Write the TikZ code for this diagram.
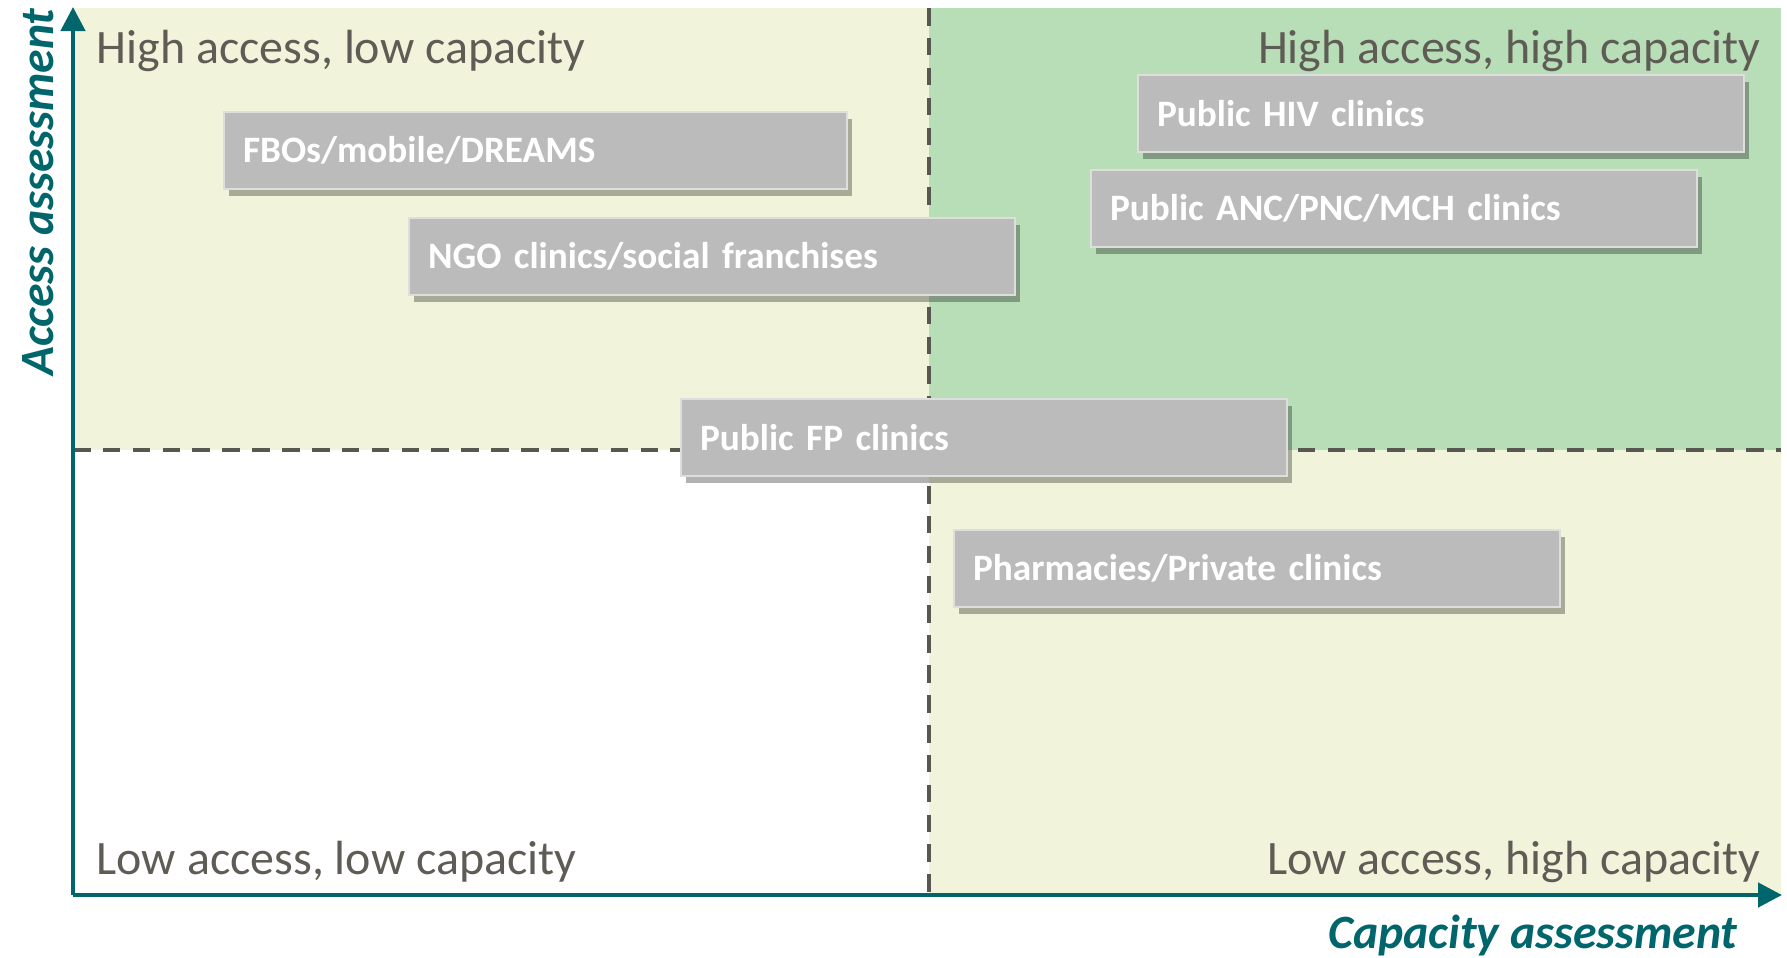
\documentclass[tikz,border=0pt]{standalone}
\usepackage{fontspec}
\setmainfont{Carlito}
\usetikzlibrary{arrows.meta,shadows}
\definecolor{axteal}{RGB}{0,102,107}
\definecolor{qgreen}{RGB}{183,222,183}
\definecolor{qcream}{RGB}{241,244,218}
\definecolor{boxgray}{RGB}{187,187,187}
\definecolor{labgray}{RGB}{95,92,86}
\definecolor{dashgray}{RGB}{88,88,80}

\tikzset{
  quadlabel/.style={font=\fontsize{13.65}{16}\selectfont, text=labgray, inner sep=0pt},
  axlabel/.style={font=\fontsize{13.6}{16}\selectfont\bfseries\itshape, text=axteal, inner sep=0pt},
  channel/.style={fill=boxgray, draw=black!13, line width=0.6pt, text=white,
    font=\fontsize{10.6}{12}\selectfont\bfseries, text width=5.68cm, inner xsep=0.19cm,
    inner ysep=0pt, minimum height=0.77cm, align=left, anchor=north west,
    drop shadow={shadow xshift=0.45mm, shadow yshift=-0.7mm, fill=black, opacity=0.3}},
  axis/.style={line width=1.3pt, draw=axteal, -{Triangle[length=2.4mm,width=2.4mm]}},
  divider/.style={line width=1pt, draw=dashgray, dash pattern=on 5pt off 3.5pt}
}

\begin{document}
\begin{tikzpicture}[x=1.0cm,y=1.0cm]
  \useasboundingbox (0,0) rectangle (17.87,9.57);
  % quadrant backgrounds
  \fill[qcream] (0.73,5.07) rectangle (9.29,9.49);
  \fill[qgreen] (9.29,5.07) rectangle (17.81,9.49);
  \fill[qcream] (9.29,0.62) rectangle (17.81,5.07);
  % dividers
  \draw[divider] (9.29,9.49) -- (9.29,0.62);
  \draw[divider] (0.73,5.07) -- (17.81,5.07);
  % axes
  \coordinate (O) at (0.73,0.62);
  \coordinate (ytop) at (0.73,9.50);
  \coordinate (xend) at (17.82,0.62);
  \draw[axis] (O) -- (ytop);
  \draw[axis] (O) -- (xend);
  \node[axlabel, rotate=90, anchor=base west] (acclab) at (0.53,5.81) {Access assessment};
  \node[axlabel, anchor=base east] (caplab) at (17.38,0.09) {Capacity assessment};
  % quadrant names
  \node[quadlabel, anchor=base west] (hl) at (0.96,8.94) {High access, low capacity};
  \node[quadlabel, anchor=base east] (hh) at (17.61,8.94) {High access, high capacity};
  \node[quadlabel, anchor=base west] (ll) at (0.96,0.83) {Low access, low capacity};
  \node[quadlabel, anchor=base east] (lh) at (17.61,0.83) {Low access, high capacity};
  % service channels
  \node[channel, text width=5.85cm] (fbo) at (2.23,8.46) {FBOs/mobile/DREAMS};
  \node[channel] (ngo) at (4.08,7.40) {NGO clinics/social franchises};
  \node[channel] (hiv) at (11.37,8.83) {Public HIV clinics};
  \node[channel] (anc) at (10.90,7.88) {Public ANC/PNC/MCH clinics};
  \node[channel] (fp) at (6.80,5.59) {Public FP clinics};
  \node[channel] (pharm) at (9.53,4.28) {Pharmacies/Private clinics};
\end{tikzpicture}
\end{document}
